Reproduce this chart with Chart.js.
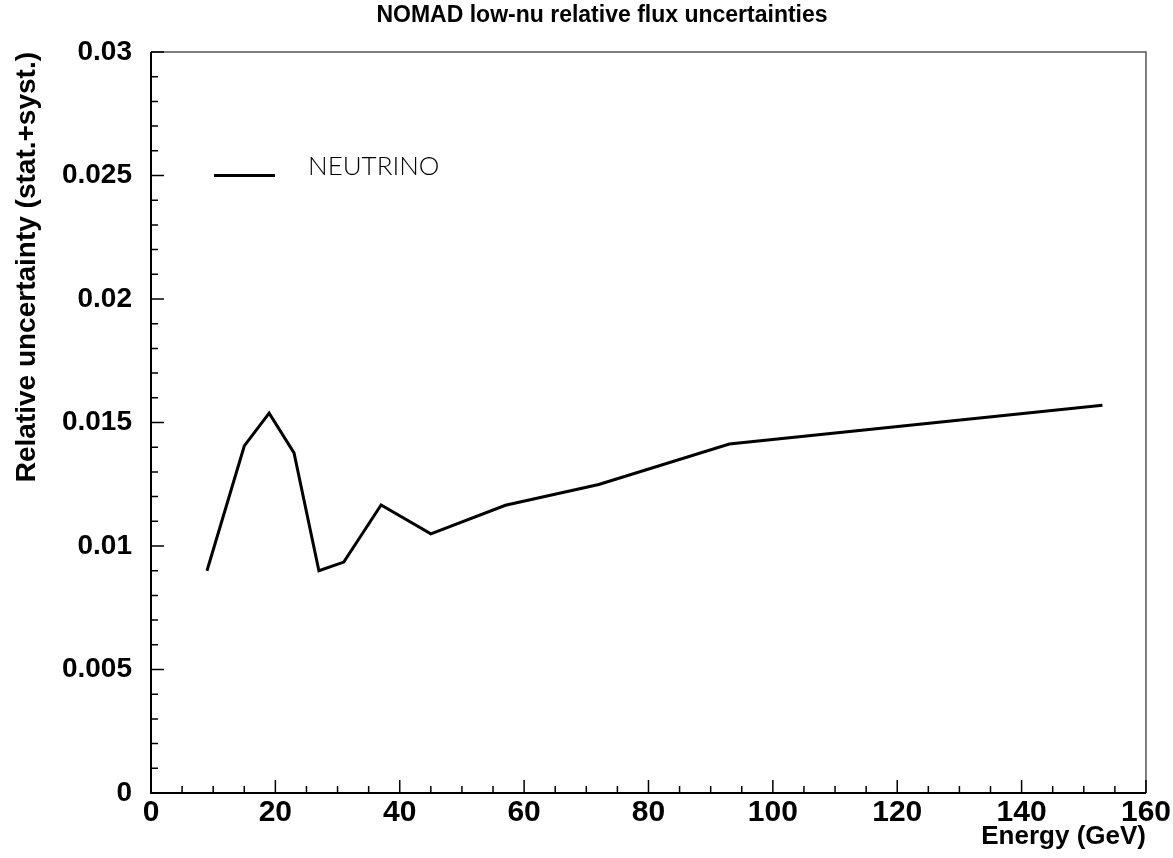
<!DOCTYPE html>
<html>
<head>
<meta charset="utf-8">
<script src="https://cdn.jsdelivr.net/npm/chart.js@4"></script>
<style>
  html, body { margin: 0; padding: 0; background: #fff; }
  #wrap { width: 1173px; height: 858px; }
</style>
</head>
<body>
<div id="wrap"><canvas id="fluxChart"></canvas></div>
<script>
// datos
const energia = [9, 15, 19, 23, 27, 31, 37, 45, 57, 72, 93, 153];
const incertidumbre = [0.0090, 0.01405, 0.01538, 0.01377, 0.0090, 0.00935, 0.01166, 0.01049, 0.01165, 0.01249, 0.01413, 0.01570];
const yMayores = [0, 0.005, 0.01, 0.015, 0.02, 0.025, 0.03];
const xMayores = [0, 20, 40, 60, 80, 100, 120, 140, 160];
const serieNombre = 'NEUTRINO';
const titulo = 'NOMAD low-nu relative flux uncertainties';

// ticks hacia dentro + marco, como en ROOT
const marcoPlugin = {
    id: 'marco',
    afterDraw(chart) {
        const { ctx, chartArea: a, scales } = chart;
        const x = scales.x, y = scales.y;
        ctx.save();
        // titulo
        ctx.fillStyle = '#000';
        ctx.font = 'bold 23px "Liberation Sans", Arial, sans-serif';
        ctx.textAlign = 'center';
        ctx.textBaseline = 'middle';
        ctx.fillText(titulo, 602, 16);
        // bordes superior y derecho finos
        ctx.strokeStyle = '#555';
        ctx.lineWidth = 1.5;
        ctx.beginPath();
        ctx.moveTo(a.left, a.top); ctx.lineTo(a.right, a.top); ctx.lineTo(a.right, a.bottom);
        ctx.stroke();
        // ejes izquierdo e inferior
        ctx.strokeStyle = '#000';
        ctx.lineWidth = 2;
        ctx.beginPath();
        ctx.moveTo(a.left, a.top); ctx.lineTo(a.left, a.bottom); ctx.lineTo(a.right, a.bottom);
        ctx.stroke();
        ctx.lineWidth = 1.5;
        ctx.beginPath();
        for (let v = 0; v <= 160.001; v += 5) {
            const px = x.getPixelForValue(v);
            const len = (v % 20 === 0) ? 13 : 7;
            ctx.moveTo(px, a.bottom); ctx.lineTo(px, a.bottom - len);
        }
        for (let i = 0; i <= 30; i++) {
            const py = y.getPixelForValue(i * 0.001);
            const len = (i % 5 === 0) ? 13 : 7;
            ctx.moveTo(a.left, py); ctx.lineTo(a.left + len, py);
        }
        ctx.stroke();
        // leyenda
        ctx.lineWidth = 3;
        ctx.beginPath();
        ctx.moveTo(a.left + 63, y.getPixelForValue(0.025));
        ctx.lineTo(a.left + 124, y.getPixelForValue(0.025));
        ctx.stroke();
        ctx.font = '300 26px Lato, "Liberation Sans", sans-serif';
        ctx.textAlign = 'left';
        ctx.fillText(serieNombre, a.left + 157, y.getPixelForValue(0.025) - 9);
        ctx.restore();
    }
};

const ctx = document.getElementById('fluxChart').getContext('2d');
new Chart(ctx, {
    type: 'line',
    data: {
        datasets: [{
            label: serieNombre,
            data: energia.map((e, i) => ({ x: e, y: incertidumbre[i] })),
            borderColor: '#000',
            borderWidth: 3,
            pointRadius: 0,
            tension: 0,
            fill: false
        }]
    },
    options: {
        responsive: true,
        maintainAspectRatio: false,
        animation: false,
        layout: { padding: { left: 0, right: 26, top: 52, bottom: 0 } },
        plugins: {
            legend: { display: false },
            tooltip: { enabled: false },
            title: { display: false }
        },
        scales: {
            x: {
                type: 'linear',
                min: 0, max: 160,
                afterBuildTicks: s => { s.ticks = xMayores.map(v => ({ value: v })); },
                afterFit: s => { s.height = 65; },
                grid: { display: false, drawTicks: false },
                border: { display: false },
                ticks: {
                    color: '#000',
                    padding: 2,
                    maxRotation: 0,
                    font: { family: '"Liberation Sans", Arial, sans-serif', size: 30, weight: 'bold' }
                },
                title: {
                    display: true,
                    text: 'Energy (GeV)',
                    align: 'end',
                    color: '#000',
                    padding: { top: 0, bottom: 6 },
                    font: { family: '"Liberation Sans", Arial, sans-serif', size: 26, weight: 'bold' }
                }
            },
            y: {
                type: 'linear',
                min: 0, max: 0.03,
                afterBuildTicks: s => { s.ticks = yMayores.map(v => ({ value: v })); },
                afterFit: s => { s.width = 151; },
                grid: { display: false, drawTicks: false },
                border: { display: false },
                ticks: {
                    color: '#000',
                    padding: 19,
                    callback: v => String(+v.toFixed(4)),
                    font: { family: '"Liberation Sans", Arial, sans-serif', size: 28, weight: 'bold' }
                },
                title: {
                    display: true,
                    text: 'Relative uncertainty (stat.+syst.)',
                    align: 'end',
                    color: '#000',
                    padding: { top: 10, bottom: 0 },
                    font: { family: '"Liberation Sans", Arial, sans-serif', size: 28, weight: 'bold' }
                }
            }
        }
    },
    plugins: [marcoPlugin]
});
</script>
</body>
</html>
